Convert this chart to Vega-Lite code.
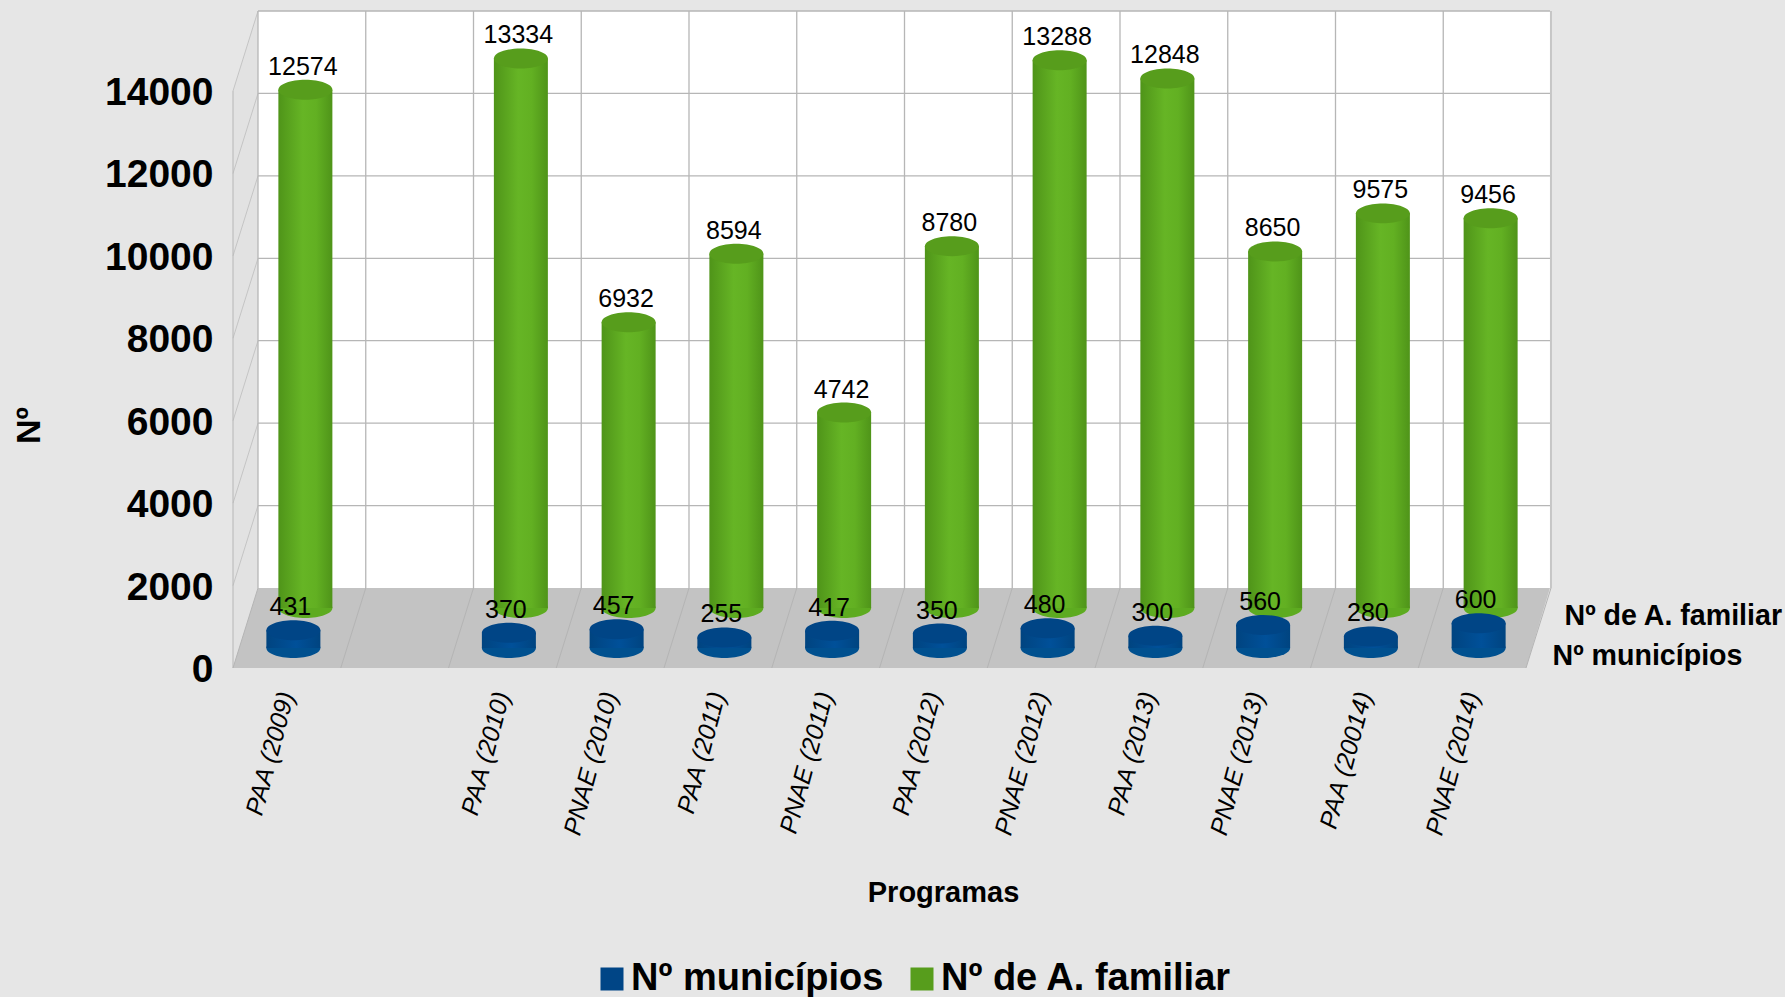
{
"$schema":"https://vega.github.io/schema/vega-lite/v6.json",
"autosize":"none","width":1293,"height":577,
"padding":{"left":233,"top":91,"right":259,"bottom":329},
"background":"#e6e6e6",
"config":{"view":{"stroke":null},"font":"Liberation Sans"},
"datasets":{
"backWall":[{"slot":0.232,"top":15941,"bottom":1941},{"slot":12.222,"top":15941,"bottom":1941}],
"leftWall":[{"slot":0,"top":14000,"bottom":0},{"slot":0.232,"top":15941,"bottom":1941}],
"floor":[{"slot":0,"top":0,"bottom":0},{"slot":0.232,"top":1941,"bottom":0},{"slot":12,"top":1941,"bottom":0},{"slot":12.222,"top":1941,"bottom":1941}],
"ticks":[{"tick":0},{"tick":2000},{"tick":4000},{"tick":6000},{"tick":8000},{"tick":10000},{"tick":12000},{"tick":14000}],
"slots":[{"slot":0},{"slot":1},{"slot":2},{"slot":3},{"slot":4},{"slot":5},{"slot":6},{"slot":7},{"slot":8},{"slot":9},{"slot":10},{"slot":11},{"slot":12}],
"rows":[
{"programa":"PAA (2009)","serie":"Nº municípios","valor":431},{"programa":"PAA (2009)","serie":"Nº de A. familiar","valor":12574},
{"programa":"PAA (2010)","serie":"Nº municípios","valor":370},{"programa":"PAA (2010)","serie":"Nº de A. familiar","valor":13334},
{"programa":"PNAE (2010)","serie":"Nº municípios","valor":457},{"programa":"PNAE (2010)","serie":"Nº de A. familiar","valor":6932},
{"programa":"PAA (2011)","serie":"Nº municípios","valor":255},{"programa":"PAA (2011)","serie":"Nº de A. familiar","valor":8594},
{"programa":"PNAE (2011)","serie":"Nº municípios","valor":417},{"programa":"PNAE (2011)","serie":"Nº de A. familiar","valor":4742},
{"programa":"PAA (2012)","serie":"Nº municípios","valor":350},{"programa":"PAA (2012)","serie":"Nº de A. familiar","valor":8780},
{"programa":"PNAE (2012)","serie":"Nº municípios","valor":480},{"programa":"PNAE (2012)","serie":"Nº de A. familiar","valor":13288},
{"programa":"PAA (2013)","serie":"Nº municípios","valor":300},{"programa":"PAA (2013)","serie":"Nº de A. familiar","valor":12848},
{"programa":"PNAE (2013)","serie":"Nº municípios","valor":560},{"programa":"PNAE (2013)","serie":"Nº de A. familiar","valor":8650},
{"programa":"PAA (20014)","serie":"Nº municípios","valor":280},{"programa":"PAA (20014)","serie":"Nº de A. familiar","valor":9575},
{"programa":"PNAE (2014)","serie":"Nº municípios","valor":600},{"programa":"PNAE (2014)","serie":"Nº de A. familiar","valor":9456}
]},
"resolve":{"scale":{"x":"independent"},"axis":{"y":"independent"}},
"layer":[
{"resolve":{"axis":{"y":"independent"}},"layer":[
{"data":{"name":"leftWall"},"mark":{"type":"area","orient":"vertical","color":"#e2e2e2"},
 "encoding":{"x":{"field":"slot","type":"quantitative","scale":{"domain":[0,12],"nice":false,"zero":false},"axis":null},
 "y":{"field":"top","type":"quantitative","scale":{"domain":[0,14000],"nice":false},
  "axis":{"values":[0,2000,4000,6000,8000,10000,12000,14000],"format":"d","grid":false,"ticks":false,"domain":false,"labelFont":"Liberation Sans","labelFontWeight":"bold","labelFontSize":39,"labelColor":"#000000","labelPadding":20,"labelOffset":1.5,"labelOverlap":false,"labelFlush":false,"title":"Nº","titleFont":"Liberation Sans","titleFontWeight":"bold","titleFontSize":34,"titleColor":"#000000","titleX":-187,"titleY":334}},
 "y2":{"field":"bottom"}}},
{"data":{"name":"backWall"},"mark":{"type":"area","orient":"vertical","color":"#ffffff"},
 "encoding":{"x":{"field":"slot","type":"quantitative","scale":{"domain":[0,12],"nice":false,"zero":false},"axis":null},"y":{"field":"top","type":"quantitative","axis":null},"y2":{"field":"bottom"}}},
{"data":{"name":"floor"},"mark":{"type":"area","orient":"vertical","color":"#c3c3c3"},
 "encoding":{"x":{"field":"slot","type":"quantitative","scale":{"domain":[0,12],"nice":false,"zero":false},"axis":null},"y":{"field":"top","type":"quantitative","axis":null},"y2":{"field":"bottom"}}},
{"data":{"name":"ticks"},"transform":[{"filter":"datum.tick>0"}],"mark":{"type":"rule","color":"#b6b6b6","strokeWidth":1.3,"xOffset":25,"x2Offset":24,"yOffset":-80},
 "encoding":{"x":{"datum":0,"type":"quantitative","scale":{"domain":[0,12],"nice":false,"zero":false},"axis":null},"x2":{"datum":12},"y":{"field":"tick","type":"quantitative","axis":null}}},
{"data":{"name":"ticks"},"transform":[{"filter":"datum.tick>0"}],"mark":{"type":"rule","color":"#c4c4c4","strokeWidth":1,"x2Offset":25,"y2Offset":-80},
 "encoding":{"x":{"datum":0,"type":"quantitative","scale":{"domain":[0,12],"nice":false,"zero":false},"axis":null},"x2":{"datum":0},"y":{"field":"tick","type":"quantitative","axis":null},"y2":{"field":"tick"}}},
{"data":{"name":"slots"},"mark":{"type":"rule","color":"#b6b6b6","strokeWidth":1.3,"xOffset":25,"yOffset":-80,"y2Offset":-80},
 "encoding":{"x":{"field":"slot","type":"quantitative","scale":{"domain":[0,12],"nice":false,"zero":false},"axis":null},"y":{"datum":0,"type":"quantitative","axis":null},"y2":{"datum":14000}}},
{"data":{"name":"slots"},"mark":{"type":"rule","color":"#b4b4b4","strokeWidth":1,"x2Offset":25,"y2Offset":-80},
 "encoding":{"x":{"field":"slot","type":"quantitative","scale":{"domain":[0,12],"nice":false,"zero":false},"axis":null},"x2":{"field":"slot"},"y":{"datum":0,"type":"quantitative","axis":null},"y2":{"datum":0}}},
{"data":{"values":[{"slot":0}]},"mark":{"type":"rule","color":"#b6b6b6","strokeWidth":1},
 "encoding":{"x":{"field":"slot","type":"quantitative","scale":{"domain":[0,12],"nice":false,"zero":false},"axis":null},"y":{"datum":0,"type":"quantitative","axis":null},"y2":{"datum":14000}}},
{"mark":{"type":"text","text":"Nº de A. familiar","font":"Liberation Sans","fontWeight":"bold","fontSize":28.6,"color":"#000000","align":"left","baseline":"alphabetic","xOffset":38.5,"yOffset":-43},
 "data":{"values":[{"slot":12}]},
 "encoding":{"x":{"field":"slot","type":"quantitative","scale":{"domain":[0,12],"nice":false,"zero":false},"axis":null},"y":{"datum":0,"type":"quantitative","axis":null}}},
{"mark":{"type":"text","text":"Nº municípios","font":"Liberation Sans","fontWeight":"bold","fontSize":28.6,"color":"#000000","align":"left","baseline":"alphabetic","xOffset":26.5,"yOffset":-3},
 "data":{"values":[{"slot":12}]},
 "encoding":{"x":{"field":"slot","type":"quantitative","scale":{"domain":[0,12],"nice":false,"zero":false},"axis":null},"y":{"datum":0,"type":"quantitative","axis":null}}}
]},
{"data":{"name":"rows"},
 "encoding":{"x":{"field":"programa","type":"nominal","sort":null,
  "scale":{"type":"band","padding":0,"domain":["PAA (2009)"," ","PAA (2010)","PNAE (2010)","PAA (2011)","PNAE (2011)","PAA (2012)","PNAE (2012)","PAA (2013)","PNAE (2013)","PAA (20014)","PNAE (2014)"]},
  "axis":{"title":"Programas","titleFont":"Liberation Sans","titleFontWeight":"bold","titleFontSize":29,"titleColor":"#000000","titleX":710,"titleY":210,"labelAngle":-75,"labelAlign":"right","labelBaseline":"middle","labelFont":"Liberation Sans","labelFontStyle":"italic","labelFontSize":25,"labelColor":"#000000","labelPadding":24,"labelLimit":300,"labelOverlap":false,"ticks":false,"domain":false,"grid":false}}},
 "layer":[
 {"transform":[{"filter":"datum.serie==='Nº de A. familiar'"}],"mark":{"type":"point","filled":true,"opacity":1,"shape":"M-1,0A1,0.37 0 1,1 1,0A1,0.37 0 1,1 -1,0Z","size":2916,"color":"#5dab20","xOffset":18.5,"yOffset":-60},
  "encoding":{"y":{"datum":0,"type":"quantitative","axis":null}}},
 {"transform":[{"filter":"datum.serie==='Nº de A. familiar'"}],"mark":{"type":"bar","size":54,"xOffset":18.5,"yOffset":-60,"y2Offset":-60,"color":{"gradient":"linear","x1":0,"y1":0,"x2":1,"y2":0,"stops":[{"offset":0,"color":"#4f9419"},{"offset":0.45,"color":"#66b525"},{"offset":0.7,"color":"#62b022"},{"offset":1,"color":"#4f9419"}]}},
  "encoding":{"y":{"field":"valor","type":"quantitative","axis":null},"y2":{"datum":0}}},
 {"transform":[{"filter":"datum.serie==='Nº de A. familiar'"}],"mark":{"type":"point","filled":true,"opacity":1,"shape":"M-1,0A1,0.37 0 1,1 1,0A1,0.37 0 1,1 -1,0Z","size":2916,"xOffset":18.5,"yOffset":-60},
  "encoding":{"y":{"field":"valor","type":"quantitative","axis":null},
   "color":{"field":"serie","type":"nominal","scale":{"domain":["Nº municípios","Nº de A. familiar"],"range":["#004586","#579d1c"]},
    "legend":{"orient":"none","legendX":360,"legendY":869,"direction":"horizontal","title":null,"symbolType":"square","symbolSize":529,"symbolOpacity":1,"symbolStrokeWidth":0,"labelFont":"Liberation Sans","labelFontWeight":"bold","labelFontSize":38,"labelColor":"#000000","labelLimit":400,"labelOffset":0,"columnPadding":19}}}},
 {"transform":[{"filter":"datum.serie==='Nº municípios'"}],"mark":{"type":"point","filled":true,"opacity":1,"shape":"M-1,0A1,0.37 0 1,1 1,0A1,0.37 0 1,1 -1,0Z","size":2916,"color":"#00508f","xOffset":6.5,"yOffset":-20},
  "encoding":{"y":{"datum":0,"type":"quantitative","axis":null}}},
 {"transform":[{"filter":"datum.serie==='Nº municípios'"}],"mark":{"type":"bar","size":54,"xOffset":6.5,"yOffset":-20,"y2Offset":-20,"color":{"gradient":"linear","x1":0,"y1":0,"x2":1,"y2":0,"stops":[{"offset":0,"color":"#004480"},{"offset":0.55,"color":"#005099"},{"offset":1,"color":"#004480"}]}},
  "encoding":{"y":{"field":"valor","type":"quantitative","axis":null},"y2":{"datum":0}}},
 {"transform":[{"filter":"datum.serie==='Nº municípios'"}],"mark":{"type":"point","filled":true,"opacity":1,"shape":"M-1,0A1,0.37 0 1,1 1,0A1,0.37 0 1,1 -1,0Z","size":2916,"xOffset":6.5,"yOffset":-20},
  "encoding":{"y":{"field":"valor","type":"quantitative","axis":null},
   "color":{"field":"serie","type":"nominal","legend":{"orient":"none","legendX":360,"legendY":869,"direction":"horizontal","title":null,"symbolType":"square","symbolSize":529,"symbolOpacity":1,"symbolStrokeWidth":0,"labelFont":"Liberation Sans","labelFontWeight":"bold","labelFontSize":38,"labelColor":"#000000","labelLimit":400,"labelOffset":0,"columnPadding":19}}}},
 {"transform":[{"filter":"datum.serie==='Nº de A. familiar'"}],"mark":{"type":"text","font":"Liberation Sans","fontSize":25,"color":"#000000","baseline":"alphabetic","xOffset":16,"yOffset":-75},
  "encoding":{"y":{"field":"valor","type":"quantitative","axis":null},"text":{"field":"valor","type":"quantitative","format":"d"}}},
 {"transform":[{"filter":"datum.serie==='Nº municípios'"}],"mark":{"type":"text","font":"Liberation Sans","fontSize":25,"color":"#000000","baseline":"alphabetic","xOffset":3.5,"yOffset":-35},
  "encoding":{"y":{"field":"valor","type":"quantitative","axis":null},"text":{"field":"valor","type":"quantitative","format":"d"}}}
 ]}
]}
